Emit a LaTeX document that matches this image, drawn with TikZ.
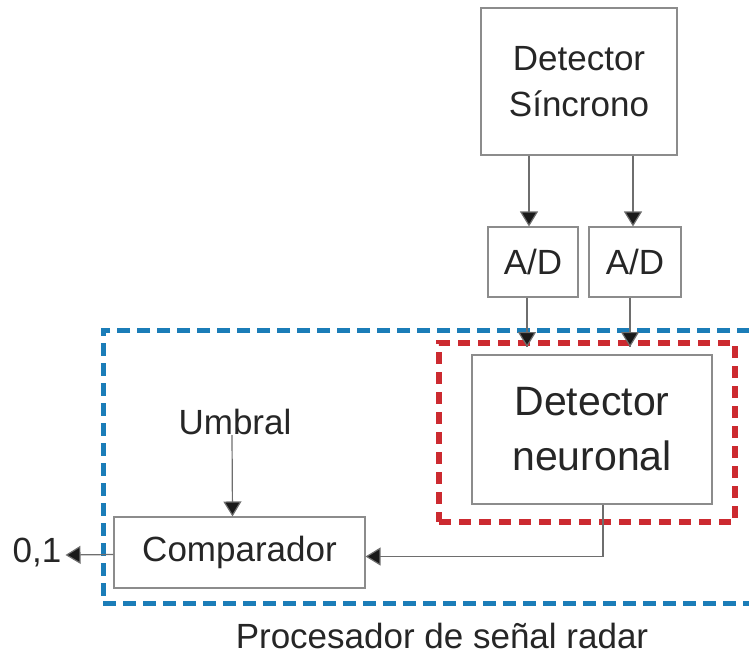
\documentclass[tikz,border=0pt]{standalone}
\usepackage{fontspec}
\setmainfont{Liberation Sans}
\usetikzlibrary{arrows.meta}
\definecolor{boxgray}{HTML}{8C8C8C}
\definecolor{linegray}{HTML}{6E6E6E}
\definecolor{procblue}{HTML}{1B7DB8}
\definecolor{nnred}{HTML}{CC2A30}
\tikzset{
  blk/.style={draw=boxgray, line width=1.1pt, fill=white, inner sep=0pt,
              align=center, font=\fontsize{35}{46}\selectfont, text=black!85},
  lbl/.style={inner sep=0pt, font=\fontsize{35}{46}\selectfont, text=black!85},
  arr/.style={draw=linegray, line width=1.2pt,
              -{Triangle[width=18pt,length=15pt,fill=black!90]}},
  wire/.style={draw=linegray, line width=1.2pt},
  bluedash/.style={draw=procblue, line width=5pt, dash pattern=on 13pt off 7pt},
  reddash/.style={draw=nnred, line width=6pt, dash pattern=on 12pt off 8pt}
}
\begin{document}
\begin{tikzpicture}[x=1pt,y=-1pt]
  \useasboundingbox (0,0) rectangle (749,657);

  % signal processor frame (open on the right)
  \draw[bluedash] (770,330) -- (103,330) -- (103,603) -- (770,603);

  % neural detector frame
  \node[reddash, minimum width=296pt, minimum height=179pt] (nnbox) at (587,432.5) {};

  % blocks
  \node[blk, minimum width=196pt, minimum height=147pt] (sync) at (579,81.5)
        {Detector\\Síncrono};
  \node[blk, minimum width=90pt, minimum height=70pt] (ad1) at (533,262) {A/D};
  \node[blk, minimum width=92pt, minimum height=70pt] (ad2) at (635,262) {A/D};
  \node[blk, minimum width=240pt, minimum height=149pt,
        font=\fontsize{41}{55}\selectfont] (neur) at (592,429.5)
        {Detector\\neuronal};
  \node[blk, minimum width=251pt, minimum height=71pt] (comp) at (239.5,552.5)
        {Comparador};

  % labels
  \node[lbl] (umbral) at (235,422) {Umbral};
  \node[lbl] (out) at (37,553) {0,1};
  \node[lbl] (proc) at (442,636) {Procesador de señal radar};

  \coordinate (tapA) at ([xshift=-4pt]ad1.north);
  \coordinate (tapB) at ([xshift=-2pt]ad2.north);
  \coordinate (inA) at ([xshift=-6pt,yshift=-7pt]nnbox.north -| ad1.south);
  \coordinate (inB) at ([xshift=-5pt,yshift=-7pt]nnbox.north -| ad2.south);
  \coordinate (nnout) at ([xshift=11pt]neur.south);
  \coordinate (cmpin) at ([yshift=-4pt]comp.east);

  % connectors
  \draw[arr] (tapA |- sync.south) -- (tapA);
  \draw[arr] (tapB |- sync.south) -- (tapB);
  \draw[wire] (inA |- ad1.south) -- (inA);
  \draw[arr] ([yshift=1pt]inA) -- (inA);
  \draw[wire] (inB |- ad2.south) -- (inB);
  \draw[arr] ([yshift=1pt]inB) -- (inB);
  \draw[arr] (nnout) |- (cmpin);
  \draw[arr] ([xshift=-3pt]umbral.south) -- ([xshift=-7pt]comp.north);
  \draw[arr] ([yshift=-2pt]comp.west) -- ([xshift=4pt,yshift=-2pt]out.east);
\end{tikzpicture}
\end{document}
